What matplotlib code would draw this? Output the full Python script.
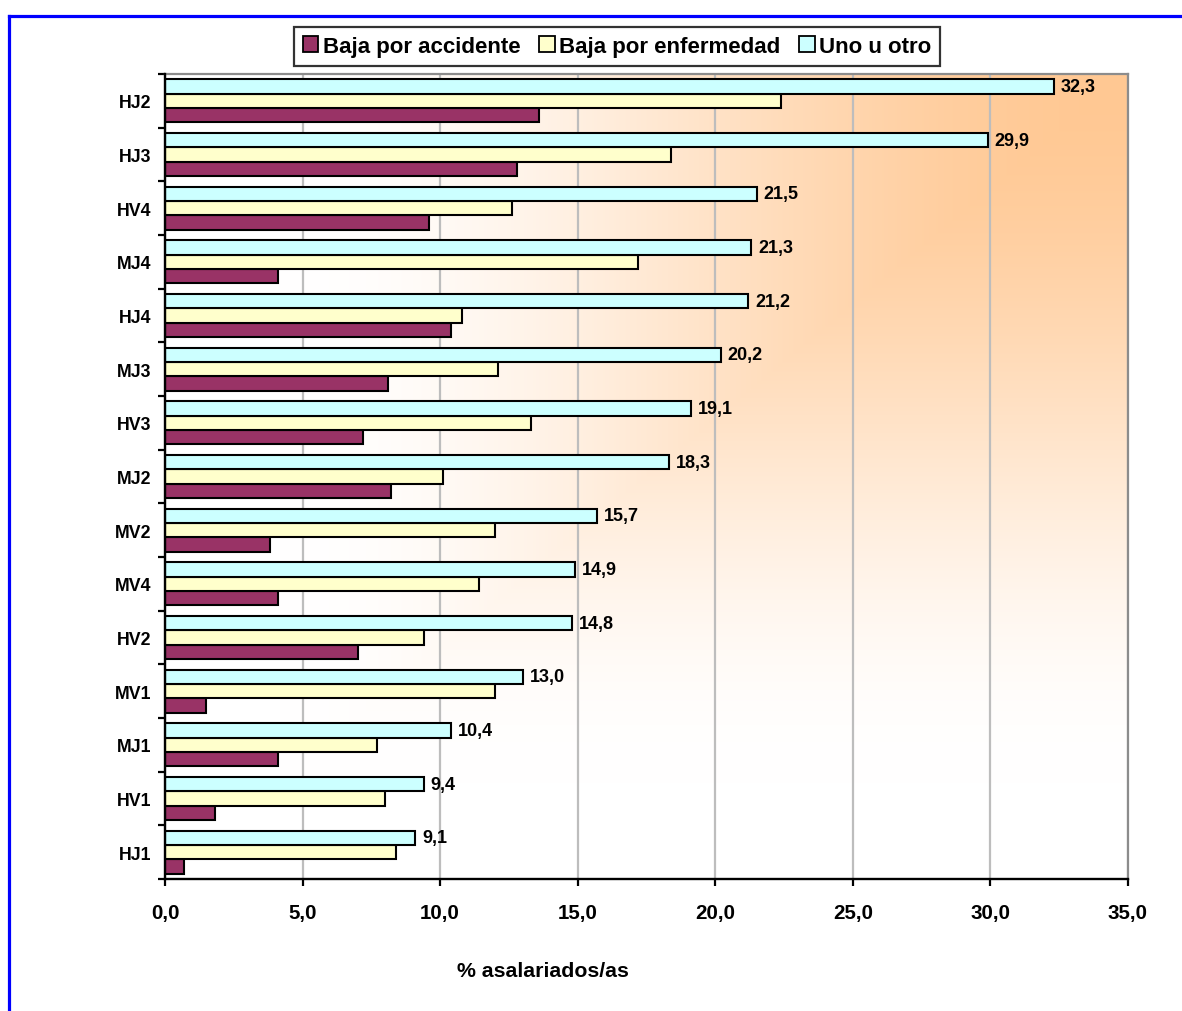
import numpy as np
import matplotlib
matplotlib.use("Agg")
import matplotlib.pyplot as plt
from matplotlib.lines import Line2D
from matplotlib.patches import Patch
from matplotlib.colors import to_rgb

plt.rcParams['font.family'] = ['Liberation Sans', 'DejaVu Sans']
plt.rcParams['font.weight'] = 'bold'

# Categories listed bottom to top
categories = ["HJ1", "HV1", "MJ1", "MV1", "HV2", "MV4", "MV2", "MJ2",
              "HV3", "MJ3", "HJ4", "MJ4", "HV4", "HJ3", "HJ2"]
accidente = [0.7, 1.8, 4.1, 1.5, 7.0, 4.1, 3.8, 8.2,
             7.2, 8.1, 10.4, 4.1, 9.6, 12.8, 13.6]
enfermedad = [8.4, 8.0, 7.7, 12.0, 9.4, 11.4, 12.0, 10.1,
              13.3, 12.1, 10.8, 17.2, 12.6, 18.4, 22.4]
uno_u_otro = [9.1, 9.4, 10.4, 13.0, 14.8, 14.9, 15.7, 18.3,
              19.1, 20.2, 21.2, 21.3, 21.5, 29.9, 32.3]
series_names = ["Baja por accidente", "Baja por enfermedad", "Uno u otro"]
series_colors = ["#993366", "#FFFFCC", "#CCFFFF"]
x_ticks = [0, 5, 10, 15, 20, 25, 30, 35]

W, H = 1182, 1012
fig = plt.figure(figsize=(W / 100, H / 100), dpi=100)
fig.patch.set_facecolor("white")

left, right, top, bottom = 165, 1128, 75, 880
ax = fig.add_axes([left / W, 1 - bottom / H, (right - left) / W, (bottom - top) / H])

# Corner gradient background: orange at top-right fading to white
n = 500
gx = np.linspace(0, 1, n)
gy = np.linspace(0, 1, n)
X, Y = np.meshgrid(gx, gy)           # Y = 0 at bottom
t = np.maximum(1 - X, 1 - Y)         # rectangular distance from top-right corner
s = np.clip(t / 0.88, 0, 1)
w = 1 - (3 * s ** 2 - 2 * s ** 3)
orange = np.array(to_rgb("#FFC893"))
white = np.array([1.0, 1.0, 1.0])
img = white[None, None, :] * (1 - w[..., None]) + orange[None, None, :] * w[..., None]
ax.imshow(img, extent=[0, 1, 0, 1], transform=ax.transAxes, origin="lower",
          aspect="auto", zorder=0, interpolation="bilinear")

y = np.arange(len(categories))
bh = 0.267
for vals, off, col in zip([accidente, enfermedad, uno_u_otro], [-bh, 0, bh], series_colors):
    ax.barh(y + off, vals, height=bh, color=col, edgecolor="black",
            linewidth=1.5, zorder=3)

for yi, val in zip(y, uno_u_otro):
    ax.annotate(f"{val:.1f}".replace(".", ","), xy=(val, yi + bh),
                xytext=(5, 0), textcoords="offset points",
                va="center", ha="left", fontsize=13, fontweight="bold", zorder=4)

ax.set_xlim(0, 35)
ax.set_ylim(-0.5, len(categories) - 0.5)
ax.set_xticks(x_ticks)
ax.set_xticklabels([f"{v:.1f}".replace(".", ",") for v in x_ticks],
                   fontsize=14.8, fontweight="bold")
ax.set_yticks(y)
ax.set_yticklabels(categories, fontsize=12.8, fontweight="bold")
ax.set_yticks(np.arange(len(categories) + 1) - 0.5, minor=True)
ax.tick_params(axis="y", which="major", length=0, pad=10)
ax.tick_params(axis="y", which="minor", length=5, width=1.6, direction="out")
ax.tick_params(axis="x", length=5, width=1.6, direction="out", pad=12)

ax.grid(axis="x", color="#BDBDBD", linewidth=1.6, zorder=1)
ax.set_axisbelow(True)

for side in ["left", "bottom"]:
    ax.spines[side].set_color("black")
    ax.spines[side].set_linewidth(1.7)
    ax.spines[side].set_zorder(5)
for side in ["top", "right"]:
    ax.spines[side].set_color("#8C8C8C")
    ax.spines[side].set_linewidth(1.6)

fig.text(542.5 / W, 1 - 972 / H, "% asalariados/as", ha="center", va="center",
         fontsize=15.3, fontweight="bold")

handles = [Patch(facecolor=c, edgecolor="black", linewidth=1.3) for c in series_colors]
leg = fig.legend(handles, series_names, loc="center", ncol=3,
                 bbox_to_anchor=(617 / W, 1 - 47.5 / H), frameon=True,
                 fancybox=False, edgecolor="black", fontsize=16,
                 handlelength=0.7, handleheight=0.7, handletextpad=0.2,
                 columnspacing=0.85, borderpad=0.4, borderaxespad=0)
leg.get_frame().set_linewidth(1.6)
for txt in leg.get_texts():
    txt.set_fontweight("bold")

# Blue outer frame (left and top edges)
bx = 9.5 / W
by = 1 - 16.5 / H
fig.add_artist(Line2D([bx, bx], [-0.01, by], transform=fig.transFigure,
                      color="#0000FF", linewidth=2.3, solid_capstyle="projecting"))
fig.add_artist(Line2D([bx, 1.01], [by, by], transform=fig.transFigure,
                      color="#0000FF", linewidth=2.3, solid_capstyle="projecting"))

fig.savefig("out.png", dpi=100, facecolor="white")
